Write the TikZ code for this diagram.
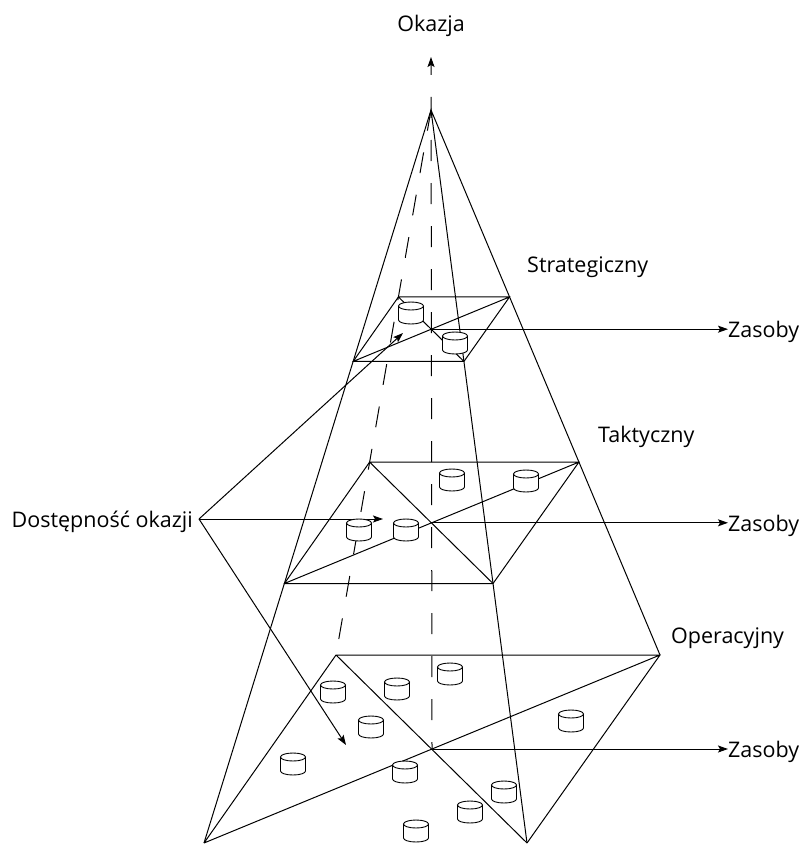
\documentclass[tikz,border=0pt]{standalone}
\usepackage{fontspec}
\setmainfont{Open Sans}
\usetikzlibrary{calc}
\usetikzlibrary{positioning}
\usetikzlibrary{arrows.meta}

\tikzset{
	krawedz/.style={line width=1pt},
	ukryta/.style={line width=1pt, dash pattern=on 21pt off 22pt},
	strzalka/.style={line width=1pt, -{Stealth[length=10pt,width=7pt,inset=2pt]}},
	etykieta/.style={font=\fontsize{21.5}{26}\selectfont, inner sep=0pt},
	beczka/.pic={
		\fill[white] (-12.5,-7) -- (-12.5,7) arc[start angle=180, end angle=0, x radius=12.5, y radius=4]
			-- (12.5,-7) arc[start angle=0, end angle=-180, x radius=12.5, y radius=4] -- cycle;
		\draw[line width=0.9pt] (-12.5,-7) -- (-12.5,7) arc[start angle=180, end angle=0, x radius=12.5, y radius=4] -- (12.5,-7);
		\draw[line width=0.9pt] (0,-7) ellipse[x radius=12.5, y radius=4];
	}
}

\begin{document}
\begin{tikzpicture}[x=1pt,y=-1pt]
	\useasboundingbox (0,0) rectangle (803,845);
	\clip (0,0) rectangle (803,845);
	% wierzcholek i podstawa
	\coordinate (A) at (431,110);
	\coordinate (LD) at (204,843);
	\coordinate (PD) at (527,843);
	\coordinate (PG) at (660,655);
	\coordinate (LG) at (336,655);
	\coordinate (C) at ($(LD)!0.5!(PG)$);
	% przekroje
	\foreach \s/\n in {0.343/S,0.646/T,1/O}{
		\coordinate (\n-1) at ($(A)!\s!(LD)$);
		\coordinate (\n-2) at ($(A)!\s!(LG)$);
		\coordinate (\n-3) at ($(A)!\s!(PG)$);
		\coordinate (\n-4) at ($(A)!\s!(PD)$);
		\coordinate (\n-c) at ($(A)!\s!(C)$);
	}
	% krawedzie ostroslupa
	\draw[krawedz] (LD) -- (A) -- (PD) (A) -- (PG);
	\draw[ukryta] (A) -- (LG);
	% os
	\coordinate (okS) at (431,57);
	\node[etykieta, anchor=base] (ok) at (431,32) {Okazja};
	\draw[ukryta, dash phase=14pt, -{Stealth[length=10pt,width=7pt,inset=2pt]}] (O-c) -- (okS);
	% poziomy
	\foreach \n in {S,T}
		\draw[krawedz] (\n-1) -- (\n-2) -- (\n-3) -- (\n-4) -- cycle (\n-1) -- (\n-3) (\n-2) -- (\n-4);
	\draw[krawedz] (O-1) -- (O-2) -- (O-3) -- (O-4) (O-1) -- (O-3) (O-2) -- (O-4);
	\node[etykieta, anchor=base west] (str) at (527,272) {Strategiczny};
	\node[etykieta, anchor=base west] (tak) at (598,442) {Taktyczny};
	\node[etykieta, anchor=base west] (ope) at (671,643) {Operacyjny};
	% zasoby
	\node[etykieta, anchor=base west] (zs) at (728,337) {Zasoby};
	\node[etykieta, anchor=base west] (zt) at (728,531) {Zasoby};
	\node[etykieta, anchor=base west] (zo) at (728,757) {Zasoby};
	\draw[strzalka] (S-c) -- (S-c -| zs.west);
	\draw[strzalka] (T-c) -- (T-c -| zt.west);
	\draw[strzalka] (O-c) -- (O-c -| zo.west);
	% dostepnosc okazji
	\coordinate (rozw) at (199,519);
	\node[etykieta, anchor=base east] (dost) at (193,527) {Dostępność okazji};
	\coordinate (dS) at (403,333);
	\coordinate (dT) at (383,519);
	\coordinate (dO) at (346,745);
	\draw[strzalka] (rozw) -- (dS);
	\draw[strzalka] (rozw) -- (dT);
	\draw[strzalka] (rozw) -- (dO);
	% beczki
	\foreach \x/\y [count=\i] in {411/313, 455/343,
		452/480, 526/481, 359/530, 406/530,
		450/674, 333/692, 397/689, 371/727, 293/764, 405/772,
		571/721, 504/792, 470/812, 416/831}{
		\coordinate (b\i) at (\x,\y);
		\pic at (b\i) {beczka};
	}
\end{tikzpicture}
\end{document}
